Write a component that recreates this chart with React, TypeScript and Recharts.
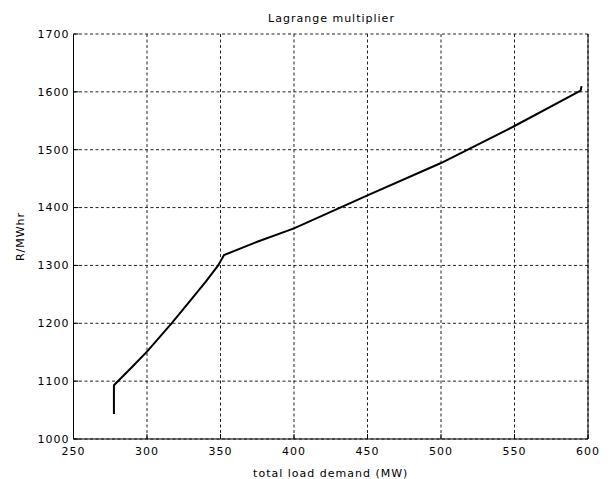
import { LineChart, Line, XAxis, YAxis, CartesianGrid } from "recharts"

const demand = [277.5, 277.5, 290, 300, 316.7, 330, 340, 348.4, 352.4, 375, 400, 450, 500, 550, 595, 595.6]
const lambda = [1043, 1093, 1125, 1151, 1200, 1241, 1272, 1300, 1318, 1341, 1364, 1421, 1477, 1541, 1602, 1610]
const xTicks = [250, 300, 350, 400, 450, 500, 550, 600]
const yTicks = [1000, 1100, 1200, 1300, 1400, 1500, 1600, 1700]

const data = demand.map((d, i) => ({ demand: d, lambda: lambda[i] }))

// matlab's bitmap font is wide and short, fake it with a wide font + a bit of spacing
const font = "'DejaVu Sans', sans-serif"
const tickStyle = { fontSize: 11, fill: "#000", fontFamily: font, letterSpacing: 1 }

const App = () => {
  return (
    <div style={{ position: "absolute", left: 0, top: 0, width: 609, height: 479, background: "#fff" }}>
      <div
        style={{
          position: "absolute",
          left: 74,
          width: 515,
          top: 12,
          textAlign: "center",
          fontFamily: font,
          fontSize: 11,
          letterSpacing: 1,
          color: "#000",
        }}
      >
        Lagrange multiplier
      </div>
      <LineChart width={609} height={479} data={data} margin={{ top: 34, right: 0, bottom: 0, left: 0 }}>
        <CartesianGrid stroke="#222" strokeDasharray="3 2.5" strokeWidth={1} />
        <XAxis
          dataKey="demand"
          type="number"
          domain={[250, 600]}
          ticks={xTicks}
          allowDataOverflow
          height={40}
          stroke="#000"
          tick={tickStyle}
          tickSize={-5}
          tickMargin={13}
          label={{ value: "total load demand (MW)", position: "insideBottom", offset: 2, style: tickStyle }}
        />
        <XAxis
          xAxisId="top"
          dataKey="demand"
          type="number"
          orientation="top"
          domain={[250, 600]}
          ticks={xTicks}
          height={0}
          stroke="#000"
          tick={false}
          tickSize={-5}
        />
        <YAxis
          type="number"
          domain={[1000, 1700]}
          ticks={yTicks}
          width={73.5}
          stroke="#000"
          tick={tickStyle}
          tickSize={-5}
          tickMargin={9}
          label={{ value: "R/MWhr", angle: -90, position: "insideLeft", offset: 20, style: { ...tickStyle, textAnchor: "middle" } }}
        />
        <YAxis
          yAxisId="right"
          type="number"
          orientation="right"
          domain={[1000, 1700]}
          ticks={yTicks}
          width={21}
          stroke="#000"
          tick={false}
          tickSize={-5}
        />
        <Line
          dataKey="lambda"
          stroke="#000"
          strokeWidth={2}
          dot={false}
          type="linear"
          isAnimationActive={false}
        />
      </LineChart>
    </div>
  )
}

export default App
